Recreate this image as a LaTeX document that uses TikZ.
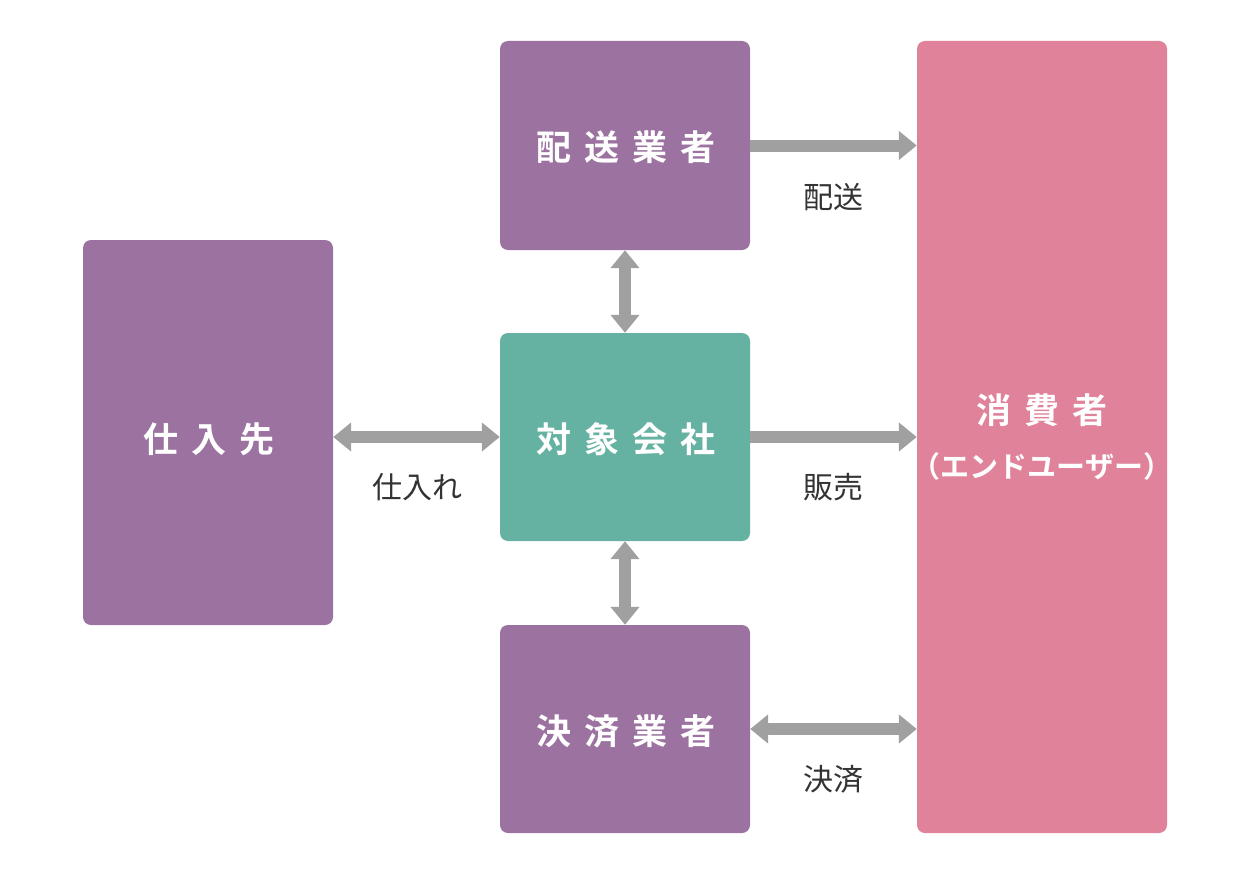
\documentclass[tikz,border=0pt]{standalone}
\usepackage{fontspec}
\newfontfamily\jp{Noto Sans CJK JP}
\newfontfamily\jpb{Noto Sans CJK JP Bold}
\usetikzlibrary{arrows.meta}
\definecolor{purp}{HTML}{9C72A1}
\definecolor{teal2}{HTML}{66B2A2}
\definecolor{pink2}{HTML}{E0829A}
\definecolor{arrgray}{HTML}{A0A0A0}
\definecolor{txt}{HTML}{333333}
\newcommand\gp{\hspace{13pt}}
\begin{document}
\begin{tikzpicture}[x=1pt,y=-1pt,
  box/.style={rounded corners=8pt, inner sep=0pt, text=white},
  boxtxt/.style={font=\jpb\fontsize{35}{42}\selectfont, text=white},
  lbl/.style={font=\jp\fontsize{30}{36}\selectfont, text=txt},
  conn/.style={draw=arrgray, line width=12pt},
  tip/.style={-{Triangle[width=28pt,length=18pt]}},
  dtip/.style={{Triangle[width=28pt,length=18pt]}-{Triangle[width=28pt,length=18pt]}}]
\useasboundingbox (0,0) rectangle (1250,875);
% boxes
\fill[purp, rounded corners=8pt] (500,41) rectangle (750,250);
\fill[teal2, rounded corners=8pt] (500,333) rectangle (750,541);
\fill[purp, rounded corners=8pt] (500,625) rectangle (750,833);
\fill[purp, rounded corners=8pt] (83,240) rectangle (333,625);
\fill[pink2, rounded corners=8pt] (917,41) rectangle (1167,833);
\coordinate (hai) at (625,145.5);
\coordinate (tai) at (625,437);
\coordinate (kes) at (625,729);
\coordinate (shi) at (208,437);
\coordinate (sho) at (1042,437);
\node[box, minimum width=250pt, minimum height=209pt] (haiN) at (hai) {};
\node[box, minimum width=250pt, minimum height=208pt] (taiN) at (tai) {};
\node[box, minimum width=250pt, minimum height=208pt] (kesN) at (kes) {};
\node[box, minimum width=250pt, minimum height=385pt] (shiN) at (shi) {};
\node[box, minimum width=250pt, minimum height=792pt] (shoN) at (sho) {};
% texts
\node[boxtxt] (t1) at (626,147) {配\gp 送\gp 業\gp 者};
\node[boxtxt] (t2) at (626,439) {対\gp 象\gp 会\gp 社};
\node[boxtxt] (t3) at (626,731) {決\gp 済\gp 業\gp 者};
\node[boxtxt] (t4) at (209,439) {仕\gp 入\gp 先};
\node[boxtxt] (t5) at (1042,410) {消\gp 費\gp 者};
\node[font=\jpb\fontsize{29}{34}\selectfont, text=white] (t6) at (1042,466) {（エンドユーザー）};
% connectors
\draw[conn, tip] (haiN.east) -- (haiN.east -| shoN.west);
\draw[conn, tip] (taiN.east) -- (taiN.east -| shoN.west);
\draw[conn, dtip] (kesN.east) -- (kesN.east -| shoN.west);
\draw[conn, dtip] (shiN.east) -- (taiN.west);
\draw[conn, dtip] (haiN.south) -- (taiN.north);
\draw[conn, dtip] (taiN.south) -- (kesN.north);
% labels
\node[lbl] (l1) at (833,197) {配送};
\node[lbl] (l2) at (833,487) {販売};
\node[lbl] (l3) at (833,779) {決済};
\node[lbl] (l4) at (417,487) {仕入れ};
\end{tikzpicture}
\end{document}
